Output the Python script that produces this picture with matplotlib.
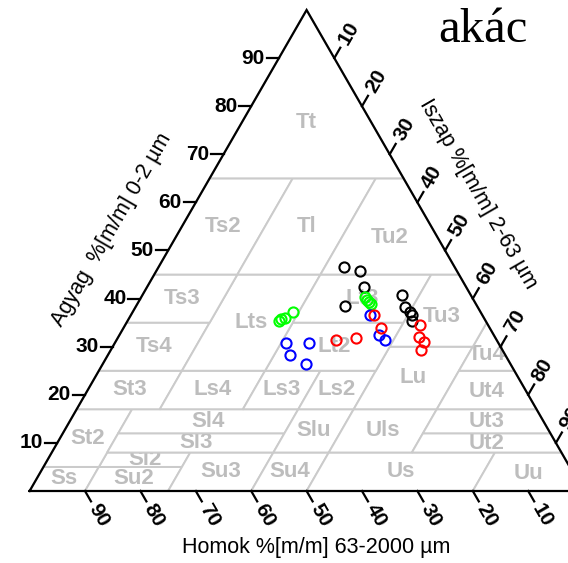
import matplotlib
matplotlib.use("Agg")
import matplotlib.pyplot as plt
from matplotlib.patches import Polygon
import numpy as np

# ---------------- data ----------------
title = "akác"
clay_title = "Agyag  %[m/m] 0-2 µm"
silt_title = "Iszap %[m/m] 2-63 µm"
sand_title = "Homok %[m/m] 63-2000 µm"
tick_values = [10, 20, 30, 40, 50, 60, 70, 80, 90]

# KA5 texture classes: vertices as (silt %, clay %)
class_names = ["Ss", "Su2", "Sl2", "Su3", "Su4", "St2", "Sl3", "Sl4", "Slu", "Us", "Uu",
               "Uls", "Ut2", "Ut3", "St3", "Ls4", "Ls3", "Ls2", "Lu", "Ut4", "Ts4", "Lt2",
               "Tu4", "Lts", "Ts3", "Lt3", "Tu3", "Ts2", "Tl", "Tu2", "Tt"]
class_polys = [
    [(0, 0), (10, 0), (10, 5), (0, 5)],
    [(10, 0), (25, 0), (25, 5), (10, 5)],
    [(10, 5), (25, 5), (25, 8), (10, 8)],
    [(25, 0), (40, 0), (40, 8), (25, 8)],
    [(40, 0), (50, 0), (50, 8), (40, 8)],
    [(0, 5), (10, 5), (10, 17), (0, 17)],
    [(10, 8), (40, 8), (40, 12), (10, 12)],
    [(10, 12), (40, 12), (40, 17), (10, 17)],
    [(40, 8), (50, 8), (50, 17), (40, 17)],
    [(50, 0), (80, 0), (80, 8), (50, 8)],
    [(80, 0), (100, 0), (92, 8), (80, 8)],
    [(50, 8), (65, 8), (65, 17), (50, 17)],
    [(65, 8), (92, 8), (88, 12), (65, 12)],
    [(65, 12), (88, 12), (83, 17), (65, 17)],
    [(0, 17), (15, 17), (15, 25), (0, 25)],
    [(15, 17), (30, 17), (30, 25), (15, 25)],
    [(30, 17), (40, 17), (40, 25), (30, 25)],
    [(40, 17), (50, 17), (50, 25), (40, 25)],
    [(50, 17), (65, 17), (65, 30), (50, 30)],
    [(65, 17), (83, 17), (75, 25), (65, 25)],
    [(0, 25), (15, 25), (15, 35), (0, 35)],
    [(30, 25), (50, 25), (50, 35), (30, 35)],
    [(65, 25), (75, 25), (65, 35)],
    [(15, 25), (30, 25), (30, 45), (15, 45)],
    [(0, 35), (15, 35), (15, 45), (0, 45)],
    [(30, 35), (50, 35), (50, 45), (30, 45)],
    [(50, 30), (65, 30), (65, 35), (55, 45), (50, 45)],
    [(0, 45), (15, 45), (15, 65), (0, 65)],
    [(15, 45), (30, 45), (30, 65), (15, 65)],
    [(30, 45), (55, 45), (35, 65), (30, 65)],
    [(0, 65), (35, 65), (0, 100)],
]

# samples (clay %, silt %)
black_clay = [46.5, 45.8, 42.4, 38.5, 40.7, 38.2, 37.2, 36.5, 35.4]
black_silt = [33.5, 36.7, 39.2, 37.6, 46.9, 48.7, 50.1, 50.8, 51.3]
green_clay = [35.3, 35.8, 36.0, 37.2, 40.3, 39.7, 39.3, 38.9]
green_silt = [27.4, 27.5, 28.1, 28.9, 40.4, 41.1, 41.6, 42.2]
blue_clay = [30.7, 30.8, 28.3, 26.4, 36.5, 32.4, 31.3]
blue_silt = [30.9, 35.1, 32.9, 36.7, 43.2, 46.9, 48.5]
red_clay = [31.3, 31.8, 36.5, 33.9, 34.5, 32.0, 31.0, 29.3]
red_silt = [39.7, 43.0, 43.9, 46.4, 53.2, 54.3, 55.7, 56.0]

series = [
    (black_clay, black_silt, "#000000"),
    (green_clay, green_silt, "#00ff00"),
    (blue_clay, blue_silt, "#0000ff"),
    (red_clay, red_silt, "#ff0000"),
]

# ---------------- helpers ----------------
def tern(silt, clay):
    silt = np.asarray(silt, float)
    clay = np.asarray(clay, float)
    return silt + clay / 2.0, clay


def centroid(poly):
    p = np.array(poly, float)
    x, y = tern(p[:, 0], p[:, 1])
    x1, y1 = np.roll(x, -1), np.roll(y, -1)
    cr = x * y1 - x1 * y
    a = cr.sum() / 2.0
    return ((x + x1) * cr).sum() / (6 * a), ((y + y1) * cr).sum() / (6 * a)

# ---------------- figure ----------------
W, H = 568, 563
fig = plt.figure(figsize=(W / 100, H / 100), dpi=100)
x0, y0, wpx, hpx = 29.6, 491.0, 554.0, 481.0
ax = fig.add_axes([x0 / W, (H - y0) / H, wpx / W, hpx / H])
ax.set_xlim(0, 100)
ax.set_ylim(0, 100)
ax.axis("off")

grey_line = "#cbcbcb"
grey_text = "#bdbdbd"
font = "Liberation Sans"

for i, (name, poly) in enumerate(zip(class_names, class_polys)):
    p = np.array(poly, float)
    xs, ys = tern(p[:, 0], p[:, 1])
    ax.add_patch(Polygon(np.column_stack([xs, ys]), closed=True, facecolor="white",
                         edgecolor=grey_line, lw=1.4, zorder=2 + 2 * i, clip_on=False))
    cx, cy = centroid(poly)
    ax.text(cx, cy, name, ha="center", va="center", color=grey_text, fontsize=16,
            fontweight="bold", family=font, zorder=3 + 2 * i)

# triangle frame
tx, ty = tern([0, 100, 0, 0], [0, 0, 100, 0])
ax.plot(tx, ty, color="black", lw=1.6, zorder=90, clip_on=False, solid_joinstyle="miter")

# ticks
px_x, px_y = wpx / 100.0, hpx / 100.0
tl = 12.0
tfs = 15
for v in tick_values:
    # clay (left edge)
    ex, ey = tern(0, v)
    ax.plot([ex, ex - tl / px_x], [ey, ey], color="black", lw=1.6, zorder=90, clip_on=False)
    ax.annotate(str(v), (ex, ey), xytext=(-14 * 0.72, 0), textcoords="offset points",
                ha="right", va="center", fontsize=tfs, fontweight="bold", family=font)
    # silt (right edge)
    ex, ey = tern(v, 100 - v)
    ax.plot([ex, ex + 0.5 * tl / px_x], [ey, ey + 0.866 * tl / px_y], color="black",
            lw=1.6, zorder=90, clip_on=False)
    d = 29.0
    ax.annotate(str(v), (ex, ey), xytext=(0.5 * d * 0.72, 0.866 * d * 0.72),
                textcoords="offset points", ha="center", va="center", rotation=60,
                rotation_mode="anchor", fontsize=tfs, fontweight="bold", family=font)
    # sand (bottom edge)
    ex, ey = tern(v, 0)
    sv = 100 - v
    ax.plot([ex, ex + 0.5 * tl / px_x], [ey, ey - 0.866 * tl / px_y], color="black",
            lw=1.6, zorder=90, clip_on=False)
    d = 28.0
    ax.annotate(str(sv), (ex, ey), xytext=(0.5 * d * 0.72, -0.866 * d * 0.72),
                textcoords="offset points", ha="center", va="center", rotation=-60,
                rotation_mode="anchor", fontsize=tfs, fontweight="bold", family=font)

# axis titles
tifs = 15.5
ex, ey = tern(0, 50)
ax.annotate(clay_title, (ex, ey), xytext=(-56 * 0.72, 21 * 0.72), textcoords="offset points",
            ha="center", va="center", rotation=60, rotation_mode="anchor",
            fontsize=tifs, family=font)
ex, ey = tern(50, 50)
ax.annotate(silt_title, (ex, ey), xytext=(33 * 0.72, 56 * 0.72), textcoords="offset points",
            ha="center", va="center", rotation=-60, rotation_mode="anchor",
            fontsize=tifs, family=font)
fig.text(316 / W, 1 - 547 / H, sand_title, ha="center", va="center", fontsize=tifs,
         family=font)

# title
fig.text(483 / W, 1 - 42 / H, title, ha="center", va="baseline", fontsize=35,
         family="Liberation Serif")

# points
for clay, silt, col in series:
    xs, ys = tern(silt, clay)
    ax.plot(xs, ys, linestyle="none", marker="o", markerfacecolor="none",
            markeredgecolor=col, markersize=7.3, markeredgewidth=1.5, zorder=100,
            clip_on=False)

fig.savefig("out.png", dpi=100)
